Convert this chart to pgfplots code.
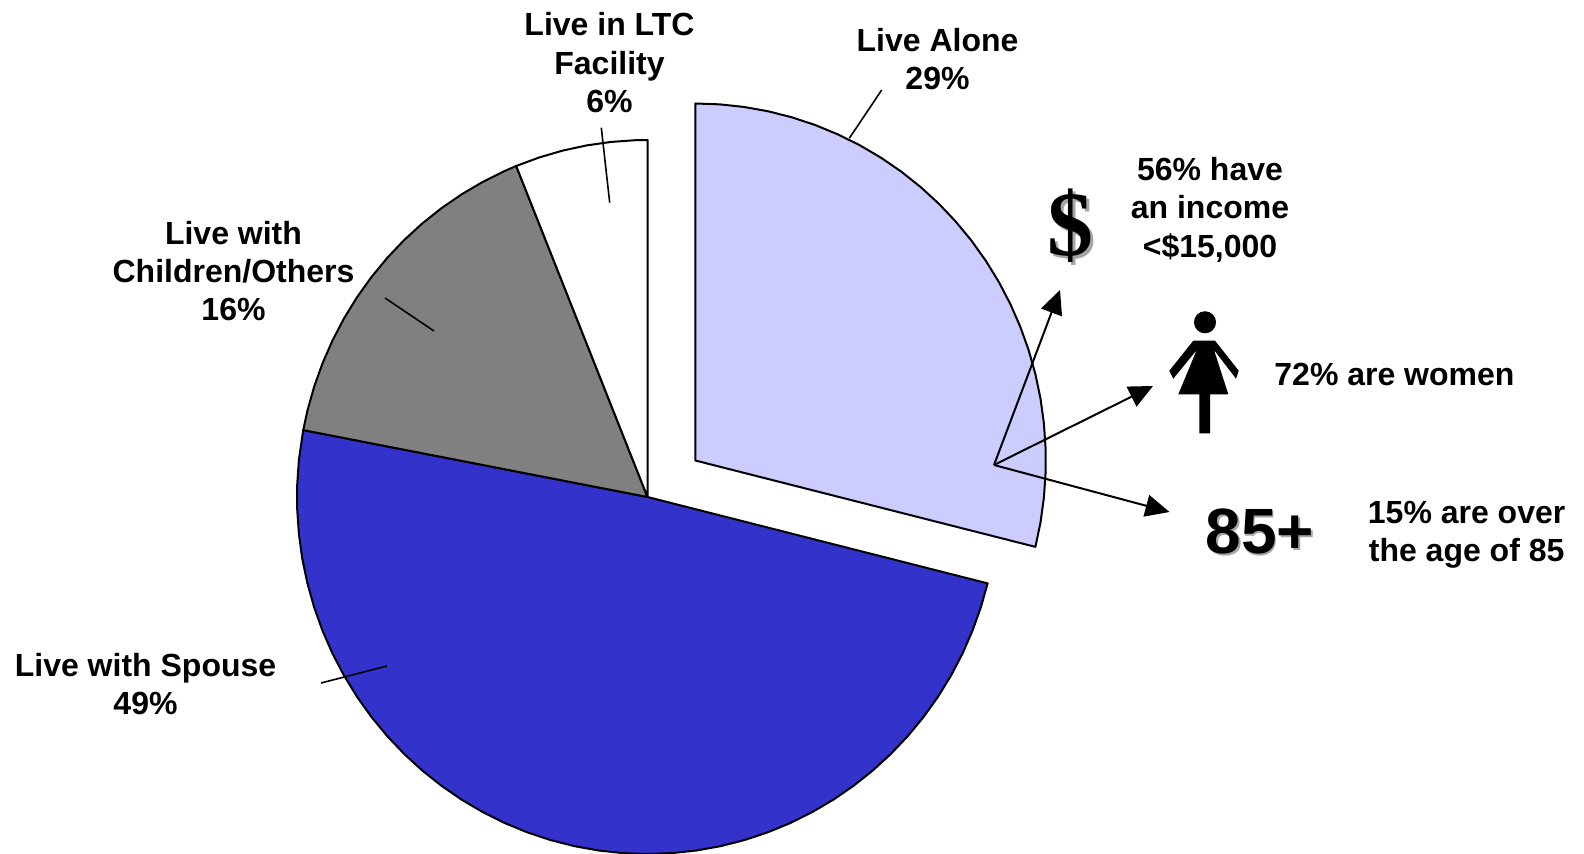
\documentclass[border=0pt]{standalone}
\usepackage{fontspec}
\setmainfont{Liberation Sans}
\newfontfamily\serifbold{Liberation Serif}
\usepackage{pgfplots}
\usepackage{pgfplotstable}
\pgfplotsset{compat=1.18}
\usetikzlibrary{arrows.meta}
\definecolor{alonec}{HTML}{CCCCFF}
\definecolor{spousec}{HTML}{3333CC}
\definecolor{othersc}{HTML}{808080}

% a = degrees clockwise from 12 o'clock, r = 0 at the pie centre, 1 on the rim
% shares: alone 29%, spouse 49%, others 16%, LTC 6%
\pgfplotstableread[row sep=\\]{
a r\\ 0 0\\ 0 1\\ 4 1\\ 8 1\\ 12 1\\ 16 1\\ 20 1\\ 24 1\\ 28 1\\ 32 1\\ 36 1\\ 40 1\\ 44 1\\ 48 1\\ 52 1\\ 56 1\\ 60 1\\ 64 1\\ 68 1\\ 72 1\\ 76 1\\ 80 1\\ 84 1\\ 88 1\\ 92 1\\ 96 1\\ 100 1\\ 104 1\\
}\alonetab
\pgfplotstableread[row sep=\\]{
a r\\ 0 0\\ 104 1\\ 108 1\\ 112 1\\ 116 1\\ 120 1\\ 124 1\\ 128 1\\ 132 1\\ 136 1\\ 140 1\\ 144 1\\ 148 1\\ 152 1\\ 156 1\\ 160 1\\ 164 1\\ 168 1\\ 172 1\\ 176 1\\ 180 1\\ 184 1\\ 188 1\\ 192 1\\ 196 1\\ 200 1\\ 204 1\\ 208 1\\ 212 1\\ 216 1\\ 220 1\\ 224 1\\ 228 1\\ 232 1\\ 236 1\\ 240 1\\ 244 1\\ 248 1\\ 252 1\\ 256 1\\ 260 1\\ 264 1\\ 268 1\\ 272 1\\ 276 1\\ 280.8 1\\
}\spousetab
\pgfplotstableread[row sep=\\]{
a r\\ 0 0\\ 280.8 1\\ 284 1\\ 288 1\\ 292 1\\ 296 1\\ 300 1\\ 304 1\\ 308 1\\ 312 1\\ 316 1\\ 320 1\\ 324 1\\ 328 1\\ 332 1\\ 336 1\\ 338 1\\
}\otherstab
\pgfplotstableread[row sep=\\]{
a r\\ 0 0\\ 338 1\\ 342 1\\ 346 1\\ 350 1\\ 354 1\\ 358 1\\ 360 1\\
}\ltctab

\tikzset{lbl/.style={align=center,font=\fontsize{16}{19.2}\selectfont\bfseries,inner sep=0pt}}

\begin{document}
\begin{tikzpicture}
\path (0,0) rectangle (792pt,427pt);
\begin{axis}[
  at={(0,0)}, anchor=south west,
  scale only axis, width=792pt, height=427pt,
  xmin=0, xmax=1584, ymin=0, ymax=854, y dir=reverse,
  hide axis, clip mode=individual,
  ]
  \addplot[draw=black, line width=1pt, fill=spousec, line join=round]
    table[x expr=647.5+\thisrow{r}*350.5*sin(\thisrow{a}), y expr=497-\thisrow{r}*357*cos(\thisrow{a})] {\spousetab} -- cycle;
  \addplot[draw=black, line width=1pt, fill=othersc, line join=round]
    table[x expr=647.5+\thisrow{r}*350.5*sin(\thisrow{a}), y expr=497-\thisrow{r}*357*cos(\thisrow{a})] {\otherstab} -- cycle;
  \addplot[draw=black, line width=1pt, fill=white, line join=round]
    table[x expr=647.5+\thisrow{r}*350.5*sin(\thisrow{a}), y expr=497-\thisrow{r}*357*cos(\thisrow{a})] {\ltctab} -- cycle;
  \addplot[draw=black, line width=1pt, fill=alonec, line join=round]
    table[x expr=695.3+\thisrow{r}*350.5*sin(\thisrow{a}), y expr=460.5-\thisrow{r}*357*cos(\thisrow{a})] {\alonetab} -- cycle;

  % leader lines
  \addplot[black, line width=0.8pt] coordinates {(881.7,90) (849.3,138.3)};
  \addplot[black, line width=0.8pt] coordinates {(601.3,127.7) (609.7,202.7)};
  \addplot[black, line width=0.8pt] coordinates {(385,298) (434,331)};
  \addplot[black, line width=0.8pt] coordinates {(321,683) (387,666)};

  % arrows out of the Live Alone slice
  \addplot[black, line width=1pt, -{Triangle[length=12pt,width=11pt]}] coordinates {(994,465) (1060,290)};
  \addplot[black, line width=1pt, -{Triangle[length=12pt,width=11pt]}] coordinates {(994,465) (1153,386)};
  \addplot[black, line width=1pt, -{Triangle[length=12pt,width=11pt]}] coordinates {(994,465) (1169.5,512)};

  % woman icon
  \addplot[draw=none, fill=black] coordinates {
    (1193.3,340.7) (1215,340.7) (1238.7,370.7) (1236,378.7) (1214,350)
    (1228.3,394.3) (1210,394.3) (1210,433.3) (1199.3,433.3) (1199.3,394.3)
    (1178.3,394.3) (1196.7,350) (1173.3,378.7) (1169.3,370.7)} -- cycle;
  \addplot[only marks, mark=*, mark size=5.3pt, black] coordinates {(1205,322.3)};

  \node[lbl] at (axis cs:937.5,59.3) {Live Alone\\29\%};
  \node[lbl] at (axis cs:609.5,62.6) {Live in LTC\\Facility\\6\%};
  \node[lbl] at (axis cs:233.5,271) {Live with\\Children/Others\\16\%};
  \node[lbl] at (axis cs:145.5,684) {Live with Spouse\\49\%};
  \node[lbl] at (axis cs:1210,209.5) {56\% have\\an income\\<\$15,000};
  \node[lbl,anchor=west] at (axis cs:1274,374) {72\% are women};
  \node[lbl,anchor=west] at (axis cs:1367.5,535) {15\% are over\\the age of 85};

  \node[inner sep=0pt,text=black!35,font=\fontsize{46}{46}\selectfont\serifbold\bfseries] at (axis cs:1073.5,229) {\$};
  \node[inner sep=0pt,font=\fontsize{46}{46}\selectfont\serifbold\bfseries] at (axis cs:1070.5,226) {\$};
  \node[inner sep=0pt,text=black!35,font=\fontsize{32}{32}\selectfont\bfseries] at (axis cs:1261.5,533) {85+};
  \node[inner sep=0pt,font=\fontsize{32}{32}\selectfont\bfseries] at (axis cs:1260,531.5) {85+};
\end{axis}
\end{tikzpicture}
\end{document}
